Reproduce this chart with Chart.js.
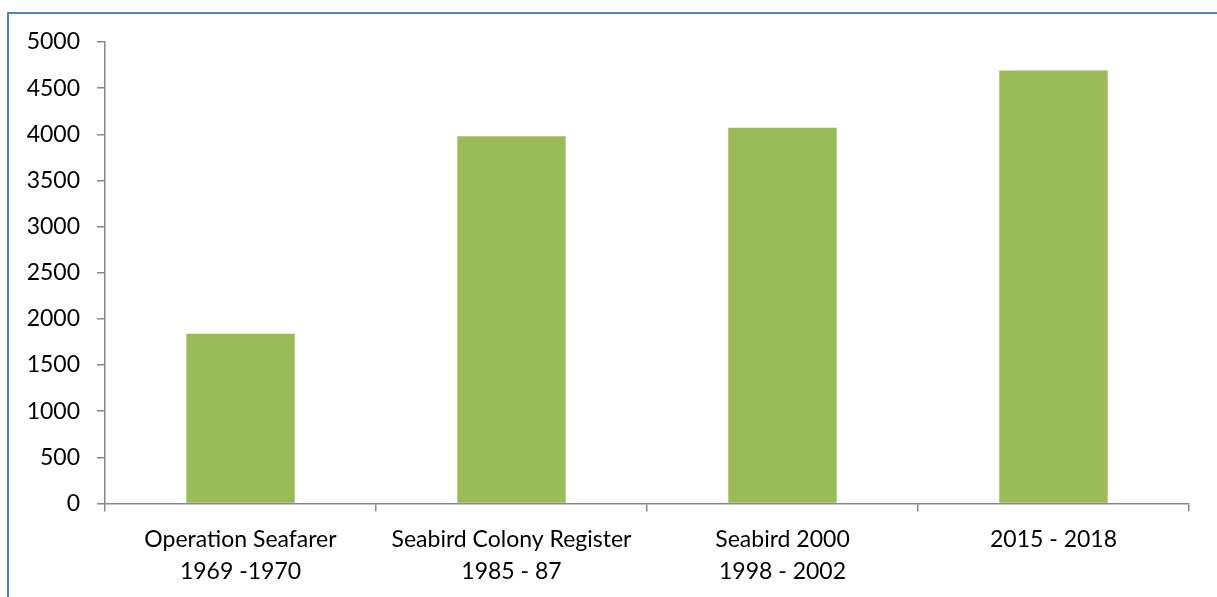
<!DOCTYPE html>
<html>
<head>
<meta charset="utf-8">
<script src="https://cdn.jsdelivr.net/npm/chart.js@4/dist/chart.umd.min.js"></script>
<style>
  html, body { margin: 0; padding: 0; background: #fff; overflow: hidden; }
  #wrap { position: relative; width: 1217px; height: 597px; }
  #frame { position: absolute; left: 7px; top: 12px; width: 1230px; height: 620px; border: 2.5px solid #5183c0; box-sizing: border-box; }
  canvas { position: absolute; left: 0; top: 0; }
</style>
</head>
<body>
<div id="wrap">
  <div id="frame"></div>
  <canvas id="c" width="1217" height="597"></canvas>
</div>
<script>
const categories = [
  ["Operation Seafarer", "1969 -1970"],
  ["Seabird Colony Register", "1985 - 87"],
  ["Seabird 2000", "1998 - 2002"],
  ["2015 - 2018"]
];
const values = [1840, 3980, 4070, 4690];
const yTicks = [0, 500, 1000, 1500, 2000, 2500, 3000, 3500, 4000, 4500, 5000];

const axisColor = '#888888';
const font = { family: 'Lato, "Open Sans", sans-serif', size: 23 };

new Chart(document.getElementById('c'), {
  type: 'bar',
  data: {
    labels: categories,
    datasets: [{
      data: values,
      backgroundColor: '#9bbb59',
      borderWidth: 0,
      barPercentage: 0.4,
      categoryPercentage: 1.0
    }]
  },
  options: {
    responsive: false,
    animation: false,
    layout: { padding: { left: 0, right: 28, top: 42, bottom: 10 } },
    plugins: { legend: { display: false }, tooltip: { enabled: false } },
    scales: {
      x: {
        afterFit: (axis) => { axis.height = 83.5; },
        grid: { display: true, drawOnChartArea: false, drawTicks: true, tickLength: 8, color: axisColor, lineWidth: 1.5, offset: true },
        border: { display: true, color: axisColor, width: 1.5 },
        ticks: { color: '#000', font: { ...font, lineHeight: 1.39 }, padding: 12, maxRotation: 0, autoSkip: false }
      },
      y: {
        min: 0, max: 5000,
        afterBuildTicks: (axis) => { axis.ticks = yTicks.map(v => ({ value: v })); },
        afterFit: (axis) => { axis.width = 105; },
        grid: { display: true, drawOnChartArea: false, drawTicks: true, tickLength: 8, color: axisColor, lineWidth: 1.5 },
        border: { display: true, color: axisColor, width: 1.5 },
        ticks: { color: '#000', font: font, padding: 17, callback: (v) => String(v) }
      }
    }
  }
});
</script>
</body>
</html>
